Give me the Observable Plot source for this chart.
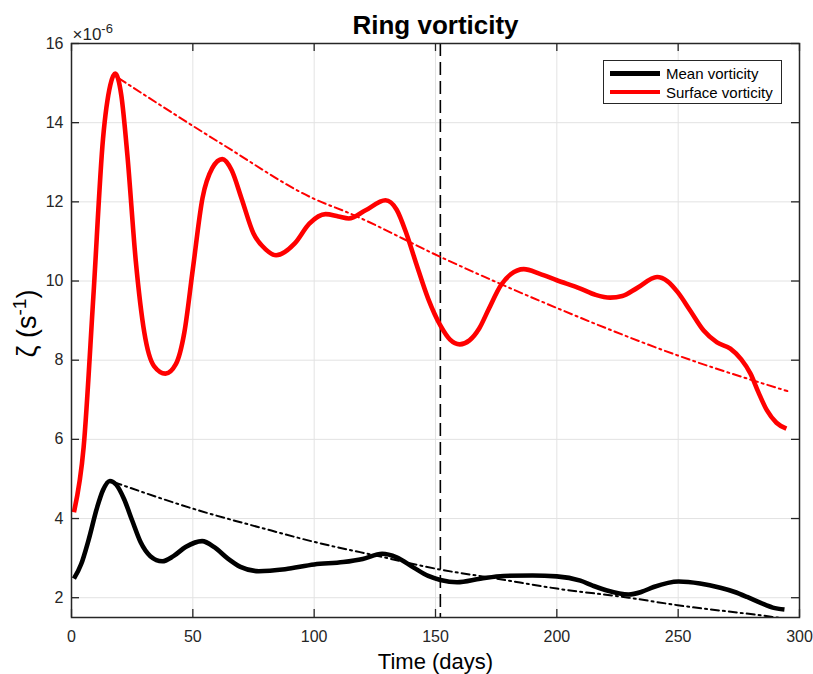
<!DOCTYPE html>
<html><head><meta charset="utf-8">
<script src="https://cdn.jsdelivr.net/npm/d3@7"></script>
<script src="https://cdn.jsdelivr.net/npm/@observablehq/plot@0.6"></script>
<style>
body{margin:0;background:#fff;font-family:"Liberation Sans",Arial,sans-serif;}
#wrap{position:relative;width:813px;height:674px;}
#legend{position:absolute;left:603px;top:60px;width:179px;height:44px;border:1px solid #262626;background:#fff;box-sizing:border-box;font-size:15px;color:#000;z-index:2;}
.row{position:absolute;left:0;height:18px;display:flex;align-items:center;white-space:nowrap;}
.sw{width:50px;height:4.5px;margin-left:6px;margin-right:6px;}
</style></head>
<body><div id="wrap"><div id="legend"></div></div>
<script>
// Values in units of 1e-6 s^-1
const surfaceDays = [1,5,9,13,16,18,20.5,23,26.5,30,34,38.7,43,46.5,50,54,58,62.1,66,70,75,80,84.3,92,98,104.7,110,114.3,121,129.4,134,138,142,147,152,156,160,164,168,172,177,181,186.4,193,200,209.7,216,222,227,233,241.3,245.5,249.8,255,260.5,266,271.5,276,279.8,283,286.6,290.5,294.6];
const surfaceVort = [4.16,5.8,9.6,13.6,14.95,15.24,14.7,13.2,10.5,8.7,7.85,7.66,7.9,8.7,10.3,12.1,12.85,13.08,12.8,12.1,11.2,10.8,10.65,10.95,11.45,11.69,11.63,11.58,11.78,12.04,11.8,11.2,10.45,9.55,8.88,8.52,8.4,8.5,8.8,9.3,9.9,10.17,10.3,10.18,10.02,9.81,9.65,9.58,9.62,9.82,10.1,10.0,9.72,9.25,8.75,8.45,8.29,8.02,7.66,7.2,6.73,6.42,6.27];

const meanDays = [1,4,7,10.6,13,15.8,18.5,21.6,25,28.5,32.5,37.4,42,47,53.8,59,64.2,69.6,77.2,88,100,112,120,128,134,141,147,152,158.9,168.5,178,190,200,209.7,215,220.7,229.6,235,239.9,250.2,259,267.4,273,278.4,284,289,293.8];
const meanVort = [2.48,2.85,3.45,4.29,4.72,4.95,4.85,4.5,3.95,3.4,3.05,2.92,3.05,3.28,3.43,3.27,3.0,2.78,2.67,2.72,2.84,2.9,2.98,3.11,3.02,2.76,2.55,2.45,2.39,2.48,2.55,2.56,2.54,2.43,2.3,2.18,2.08,2.15,2.27,2.41,2.36,2.25,2.15,2.02,1.87,1.75,1.7];

const surfaceFitDays = [19.5,62.8,99.8,115,152,201.5,249.8,295];
const surfaceFitVort = [15.12,13.43,12.08,11.7,10.61,9.28,8.12,7.22];

const meanFitDays = [17.4,53.2,77.9,100,127.3,152,175.4,200,229.6,249.8,289.4,295];
const meanFitVort = [4.92,4.19,3.77,3.41,3.04,2.71,2.48,2.23,2.0,1.81,1.51,1.46];

const eventDay = [152];
const xTicks = [0,50,100,150,200,250,300];
const yTicks = [2,4,6,8,10,12,14,16];

const seriesNames = ["Mean vorticity","Surface vorticity"];
const seriesColors = ["#000000","#ff0000"];

const toRows = (xs, ys) => xs.map((x, i) => ({x, y: ys[i]}));
const surface = toRows(surfaceDays, surfaceVort);
const mean = toRows(meanDays, meanVort);
const surfaceFit = toRows(surfaceFitDays, surfaceFitVort);
const meanFit = toRows(meanFitDays, meanFitVort);

const W = 813, H = 674, mL = 71, mR = 14, mT = 43, mB = 57;
const fw = W - mL - mR, fh = H - mT - mB, tl = 8;
const axisColor = "#262626";

const svg = Plot.plot({
  width: W, height: H,
  marginLeft: mL, marginRight: mR, marginTop: mT, marginBottom: mB,
  style: {fontFamily: '"Liberation Sans", Arial, sans-serif', fontSize: "16px", color: axisColor, background: "#fff"},
  x: {domain: [0, 300]},
  y: {domain: [1.5, 16]},
  marks: [
    Plot.gridX(xTicks, {stroke: "#e3e3e3", strokeOpacity: 1, strokeWidth: 1}),
    Plot.gridY(yTicks, {stroke: "#e3e3e3", strokeOpacity: 1, strokeWidth: 1}),
    Plot.ruleX(eventDay, {x: d => d, stroke: "#000", strokeWidth: 1.6, strokeDasharray: "13,6"}),
    Plot.line(surfaceFit, {x: "x", y: "y", stroke: "#ff0000", strokeWidth: 2, strokeDasharray: "8,4,2,4", curve: "monotone-x", clip: true}),
    Plot.line(meanFit, {x: "x", y: "y", stroke: "#000", strokeWidth: 2, strokeDasharray: "8,4,2,4", curve: "monotone-x", clip: true}),
    Plot.line(mean, {x: "x", y: "y", stroke: "#000", strokeWidth: 4.6, curve: "monotone-x", strokeLinejoin: "round", strokeLinecap: "butt"}),
    Plot.line(surface, {x: "x", y: "y", stroke: "#ff0000", strokeWidth: 4.6, curve: "monotone-x", strokeLinejoin: "round", strokeLinecap: "butt"}),
    // inward ticks on all four sides
    Plot.tickX(xTicks, {x: d => d, insetTop: fh - tl, stroke: axisColor, strokeWidth: 1.3}),
    Plot.tickX(xTicks, {x: d => d, insetBottom: fh - tl, stroke: axisColor, strokeWidth: 1.3}),
    Plot.tickY(yTicks, {y: d => d, insetRight: fw - tl, stroke: axisColor, strokeWidth: 1.3}),
    Plot.tickY(yTicks, {y: d => d, insetLeft: fw - tl, stroke: axisColor, strokeWidth: 1.3}),
    Plot.axisX({ticks: xTicks, tickSize: 0, tickPadding: 13, label: null, fontSize: 16}),
    Plot.axisY({ticks: yTicks, tickSize: 0, tickPadding: 8, label: null, fontSize: 16}),
    Plot.frame({stroke: axisColor, strokeWidth: 1.5}),
    Plot.text(["Ring vorticity"], {text: d => d, frameAnchor: "top", lineAnchor: "bottom", dy: -10, fontSize: 26, fontWeight: "bold", fill: "#000"}),
    Plot.text(["Time (days)"], {text: d => d, frameAnchor: "bottom", lineAnchor: "bottom", dy: 51, fontSize: 22, fill: "#000"}),
    Plot.text(["ζ (s-1)"], {text: d => d, frameAnchor: "left", rotate: -90, lineAnchor: "middle", textAnchor: "middle", dx: -44, dy: -7, fontSize: 27, fill: "#000"}),
    Plot.text(["×10-6"], {text: d => d, frameAnchor: "top-left", textAnchor: "start", lineAnchor: "bottom", dx: 1, dy: -4, fontSize: 17, fill: axisColor})
  ]
});

// superscripts
d3.select(svg).selectAll("text").filter(function(){ return this.textContent === "ζ (s-1)"; }).each(function(){
  const t = d3.select(this); t.text(null);
  t.append("tspan").text("ζ (s");
  t.append("tspan").attr("dy", -10).attr("font-size", 19).text("-1");
  t.append("tspan").attr("dy", 10).text(")");
});
d3.select(svg).selectAll("text").filter(function(){ return this.textContent === "×10-6"; }).each(function(){
  const t = d3.select(this); t.text(null);
  t.append("tspan").text("×10");
  t.append("tspan").attr("dy", -7).attr("font-size", 13).text("-6");
});

const wrap = document.getElementById("wrap");
wrap.insertBefore(svg, wrap.firstChild);

const legend = d3.select("#legend");
seriesNames.forEach((name, i) => {
  const row = legend.append("div").attr("class", "row").style("top", (i === 0 ? 3.5 : 22) + "px");
  row.append("div").attr("class", "sw").style("background", seriesColors[i]);
  row.append("span").text(name);
});
</script>
</body></html>
